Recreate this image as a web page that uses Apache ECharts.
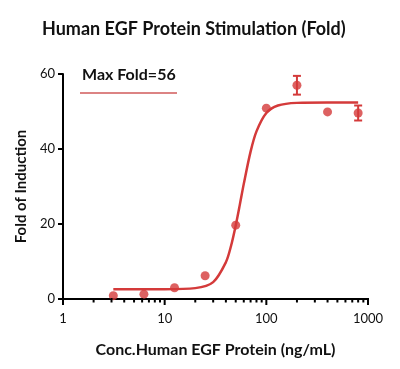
<!DOCTYPE html>
<html>
<head>
<meta charset="utf-8">
<script src="https://cdn.jsdelivr.net/npm/echarts@6/dist/echarts.min.js"></script>
<style>html,body{margin:0;padding:0;background:#fff;}#c{width:400px;height:369px;}</style>
</head>
<body>
<div id="c"></div>
<script>
// Data
var concentrations = [3.125, 6.25, 12.5, 25, 50, 100, 200, 400, 800];
var foldValues = [0.9, 1.3, 3.0, 6.2, 19.7, 50.9, 57.0, 49.9, 49.6];
var foldErrors = [0, 0, 0, 0, 0, 0, 2.5, 0, 2.0];
var curveX = [3.125, 10, 20, 30, 40, 45, 50, 55, 60, 70, 80, 100, 130, 200, 400, 800];
var curveY = [2.6, 2.6, 2.9, 4.5, 9.8, 14.2, 19.6, 25.3, 30.7, 39.3, 44.7, 49.6, 51.6, 52.3, 52.4, 52.4];
var xMajorTicks = [1, 10, 100, 1000];
var xMinorTicks = [2,3,4,5,6,7,8,9,20,30,40,50,60,70,80,90,200,300,400,500,600,700,800,900];
var yTicks = [0, 20, 40, 60];
var titleText = 'Human EGF Protein Stimulation (Fold)';
var xName = 'Conc.Human EGF Protein (ng/mL)';
var yName = 'Fold of Induction';
var legendText = 'Max Fold=56';

var RED = '#d43a3a';
var FONT = 'Lato';

var pts = concentrations.map(function(c, i){ return [c, foldValues[i]]; });
var errs = concentrations.map(function(c, i){ return [c, foldValues[i] - foldErrors[i], foldValues[i] + foldErrors[i]]; }).filter(function(d, i){ return foldErrors[i] > 0; });
var curve = curveX.map(function(c, i){ return [c, curveY[i]]; });
var tickData = xMajorTicks.map(function(v){ return [v, 0, 1]; }).concat(xMinorTicks.map(function(v){ return [v, 0, 0]; }));

var chart = echarts.init(document.getElementById('c'), null, {renderer: 'canvas'});
chart.setOption({
  animation: false,
  backgroundColor: '#fff',
  title: {
    text: titleText, left: 37, top: 15,
    textStyle: {fontFamily: FONT, fontWeight: 'bold', fontSize: 18, color: '#111'}
  },
  graphic: [
    {type: 'text', left: 82, top: 67, style: {text: legendText, fontFamily: FONT, fontWeight: 'bold', fontSize: 16, fill: '#111'}},
    {type: 'line', shape: {x1: 80, y1: 93, x2: 177, y2: 93}, style: {stroke: '#d05a5a', lineWidth: 1.5}}
  ],
  grid: {left: 63, right: 32, top: 74, bottom: 70},
  xAxis: {
    type: 'log', logBase: 10, min: 1, max: 1000,
    name: xName, nameLocation: 'middle', nameGap: 43,
    nameTextStyle: {fontFamily: FONT, fontWeight: 'bold', fontSize: 16, color: '#111'},
    axisLine: {lineStyle: {color: '#000', width: 2}},
    axisTick: {show: false},
    axisLabel: {fontFamily: FONT, fontSize: 13, color: '#111', margin: 13,
      formatter: function(v){ return String(Math.round(v)); }},
    splitLine: {show: false}
  },
  yAxis: {
    type: 'value', min: 0, max: 60, interval: 20,
    name: yName, nameLocation: 'middle', nameGap: 29,
    nameTextStyle: {fontFamily: FONT, fontWeight: 'bold', fontSize: 15, color: '#111'},
    axisLine: {show: true, lineStyle: {color: '#000', width: 2}},
    axisTick: {show: true, length: 5, lineStyle: {color: '#000', width: 2}},
    axisLabel: {fontFamily: FONT, fontSize: 13, color: '#111', margin: 8},
    splitLine: {show: false}
  },
  series: [
    {
      type: 'custom', data: tickData, clip: false, silent: true, z: 10,
      renderItem: function(params, api){
        var p = api.coord([api.value(0), api.value(1)]);
        var len = api.value(2) ? 7 : 4.5;
        return {type: 'rect', shape: {x: p[0] - 1, y: p[1] - 1, width: 2, height: len},
          style: {fill: '#000'}};
      }
    },
    {
      type: 'line', data: curve, smooth: 0.3, showSymbol: false, symbol: 'none',
      lineStyle: {color: RED, width: 2.5}, z: 2
    },
    {
      type: 'custom', data: errs, z: 3,
      renderItem: function(params, api){
        var x = api.value(0);
        var lo = api.coord([x, api.value(1)]);
        var hi = api.coord([x, api.value(2)]);
        var w = 4;
        var st = {stroke: RED, lineWidth: 2};
        return {type: 'group', children: [
          {type: 'line', shape: {x1: lo[0], y1: lo[1], x2: hi[0], y2: hi[1]}, style: st},
          {type: 'line', shape: {x1: lo[0]-w, y1: lo[1], x2: lo[0]+w, y2: lo[1]}, style: st},
          {type: 'line', shape: {x1: hi[0]-w, y1: hi[1], x2: hi[0]+w, y2: hi[1]}, style: st}
        ]};
      }
    },
    {
      type: 'scatter', data: pts, symbol: 'circle', symbolSize: 9,
      itemStyle: {color: RED}, z: 4
    }
  ]
});
</script>
</body>
</html>
